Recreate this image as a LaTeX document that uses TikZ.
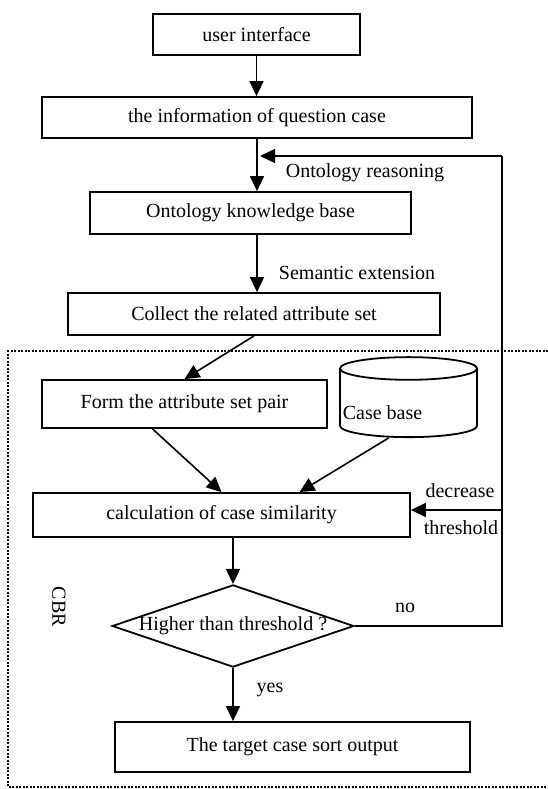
\documentclass[tikz,border=0pt]{standalone}
\usepackage{fontspec}
\setmainfont{Liberation Serif}
\usetikzlibrary{arrows.meta}
\usetikzlibrary{shapes.geometric}

\begin{document}
\begin{tikzpicture}[x=1pt,y=-1pt,->,>={Triangle[length=15pt,width=14pt]},line width=1.6pt,
  font=\fontsize{20}{24}\selectfont,
  box node/.style={rectangle,draw,line width=1.8pt,inner sep=0pt},
  test node/.style={diamond,draw,line width=1.8pt,aspect=2.94,inner sep=0pt},
  base node/.style={cylinder,shape border rotate=90,draw,line width=1.8pt,
  aspect=3.4,minimum width=137pt,minimum height=80pt}]
\useasboundingbox (0,0) rectangle (548,789);
%------------------------------------------------------------------------
% The steps
%------------------------------------------------------------------------
\node[box node,minimum width=207pt,minimum height=41pt] (ui) at (256.5,34.5) {user interface};
\node[box node,minimum width=430pt,minimum height=41pt] (info) at (257,117.5) {the information of question case};
\node[box node,minimum width=321pt,minimum height=42pt] (onto) at (250.5,213) {Ontology knowledge base};
\node[box node,minimum width=372pt,minimum height=42pt] (collect) at (254,314) {Collect the related attribute set};
\node[box node,minimum width=285pt,minimum height=48pt] (form) at (184.5,404) {Form the attribute set pair};
\node[base node] (cb) at (408.5,405) {};
\node[anchor=west,inner sep=0pt] (cbtxt) at (342,413) {Case base};
\node[box node,minimum width=377pt,minimum height=44pt] (calc) at (221.5,515) {calculation of case similarity};
\node[test node] (test) at (233,626) {Higher than threshold ?};
\node[box node,minimum width=355pt,minimum height=50pt] (out) at (292.5,747) {The target case sort output};
%------------------------------------------------------------------------
% The labels
%------------------------------------------------------------------------
\node (reason) at (365,173) {Ontology reasoning};
\node (sem) at (357,273) {Semantic extension};
\node (dec) at (460,491) {decrease};
\node (thr) at (461,528) {threshold};
\node (no) at (405,608) {no};
\node (yes) at (270,690) {yes};
\node[rotate=-90] (cbr) at (59,607) {CBR};
\coordinate (loop) at (502,156);
\coordinate (join) at (260,156);
\coordinate (lower) at (502,510);
%------------------------------------------------------------------------
% The flow
%------------------------------------------------------------------------
\draw (ui.south) -- (ui.south |- info.north);
\draw (info.south) -- (info.south |- onto.north);
\draw (info.south |- onto.south) -- (info.south |- collect.north);
\draw (collect.south) -- (form.north);
\draw ([xshift=-32pt]form.south) -- (calc.north);
\draw ([xshift=-20pt]cb.south) -- ([xshift=78pt]calc.north);
\draw (calc.south -| test.north) -- (test.north);
\draw (test.south) -- (test.south |- out.north);
% The loop back
\draw[-] (test.east) -- (test.east -| loop) -- (loop);
\draw (loop) -- (join);
\draw (lower) -- (lower -| calc.east);
% CBR part
\draw[-,dash pattern=on 2pt off 1.5pt,line width=1.6pt] (548,351) -- (8,351) -- (8,787) -- (548,787);
\end{tikzpicture}
\end{document}
